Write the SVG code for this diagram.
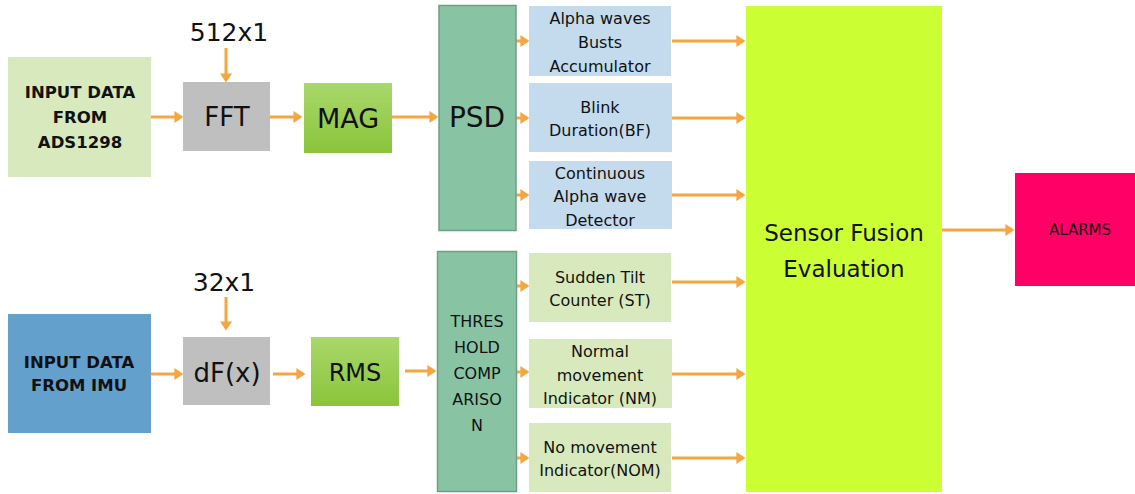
<svg xmlns="http://www.w3.org/2000/svg" width="1135" height="494" viewBox="0 0 1135 494">
<style>
text{font-family:"DejaVu Sans","Liberation Sans",sans-serif;fill:#111;text-anchor:middle;dominant-baseline:central}
.b{font-weight:bold;font-size:16.5px}
.s{font-size:16px}
.conn line{stroke:#F5A640;stroke-width:3;marker-end:url(#ah)}
</style>
<defs>
<marker id="ah" markerWidth="4" markerHeight="4" refX="2.2" refY="2" orient="auto" markerUnits="strokeWidth">
<path d="M0,0L3,2L0,4z" fill="#F5A640"/>
</marker>
<linearGradient id="gg" x1="0" y1="0" x2="0" y2="1">
<stop offset="0" stop-color="#A9D86B"/>
<stop offset="1" stop-color="#8BC43A"/>
</linearGradient>
</defs>
<rect width="1135" height="494" fill="#fff"/>
<g id="conns" class="conn">
<line x1="226" y1="48" x2="226" y2="80"/>
<line x1="151" y1="117" x2="181" y2="117"/>
<line x1="270" y1="117" x2="300" y2="117"/>
<line x1="392" y1="117" x2="436" y2="117"/>
<line x1="516" y1="41" x2="527" y2="41"/>
<line x1="516" y1="118" x2="527" y2="118"/>
<line x1="516" y1="195" x2="527" y2="195"/>
<line x1="672" y1="41" x2="743" y2="41"/>
<line x1="672" y1="118" x2="743" y2="118"/>
<line x1="672" y1="195" x2="743" y2="195"/>
<line x1="942" y1="230" x2="1012" y2="230"/>
<line x1="226" y1="297" x2="226" y2="328"/>
<line x1="151" y1="374" x2="181" y2="374"/>
<line x1="273" y1="374" x2="303" y2="374"/>
<line x1="405" y1="371" x2="434" y2="371"/>
<line x1="517" y1="286" x2="527" y2="286"/>
<line x1="517" y1="372" x2="527" y2="372"/>
<line x1="517" y1="458" x2="527" y2="458"/>
<line x1="672" y1="282" x2="743" y2="282"/>
<line x1="672" y1="374" x2="743" y2="374"/>
<line x1="672" y1="458" x2="743" y2="458"/>
</g>
<g id="n512"><text x="229" y="32" font-size="25">512x1</text></g>
<g id="n32"><text x="224" y="282" font-size="25">32x1</text></g>
<g id="ads"><rect x="8" y="57" width="143" height="120" fill="#D8EABD"/>
<text class="b" x="80" y="92">INPUT DATA</text><text class="b" x="80" y="117">FROM</text><text class="b" x="80" y="142">ADS1298</text></g>
<g id="fft"><rect x="183" y="82" width="87" height="69" fill="#BFBFBF"/><text x="227" y="117" font-size="26">FFT</text></g>
<g id="mag"><rect x="304" y="83" width="88" height="70" fill="url(#gg)"/><text x="348" y="118" font-size="27">MAG</text></g>
<g id="psd"><rect x="439" y="5.5" width="77" height="225" fill="#88C4A4" stroke="#6E9E84" stroke-width="1.5"/><text x="477" y="117" font-size="28">PSD</text></g>
<g id="alpha"><rect x="529" y="6" width="142" height="70" fill="#C4DBEE"/>
<text class="s" x="600" y="18">Alpha waves</text><text class="s" x="600" y="42">Busts</text><text class="s" x="600" y="66">Accumulator</text></g>
<g id="blink"><rect x="529" y="83" width="143" height="69" fill="#C4DBEE"/>
<text class="s" x="600" y="107">Blink</text><text class="s" x="600" y="130">Duration(BF)</text></g>
<g id="cont"><rect x="529" y="161" width="143" height="68" fill="#C4DBEE"/>
<text class="s" x="600" y="173">Continuous</text><text class="s" x="600" y="196">Alpha wave</text><text class="s" x="600" y="220">Detector</text></g>
<g id="fusion"><rect x="746" y="6" width="196" height="486" fill="#CCFF33"/>
<text x="844" y="233" font-size="23">Sensor Fusion</text><text x="844" y="269" font-size="23">Evaluation</text></g>
<g id="alarms"><rect x="1015" y="173" width="120" height="113" fill="#FF0066"/><text x="1080" y="230" font-size="15">ALARMS</text></g>
<g id="imu"><rect x="8" y="314" width="143" height="119" fill="#63A0CC"/>
<text class="b" x="79" y="362">INPUT DATA</text><text class="b" x="79" y="385">FROM IMU</text></g>
<g id="df"><rect x="183" y="337" width="87" height="68" fill="#BFBFBF"/><text x="227" y="373" font-size="26">dF(x)</text></g>
<g id="rms"><rect x="311" y="337" width="88" height="69" fill="url(#gg)"/><text x="355" y="373" font-size="24">RMS</text></g>
<g id="thr"><rect x="437.5" y="251.5" width="79" height="240" fill="#88C4A4" stroke="#6E9E84" stroke-width="1.5"/>
<text x="477" y="321" font-size="16">THRES</text><text x="477" y="347" font-size="16">HOLD</text><text x="477" y="373" font-size="16">COMP</text><text x="477" y="399" font-size="16">ARISO</text><text x="477" y="425" font-size="16">N</text></g>
<g id="tilt"><rect x="529" y="253" width="142" height="69" fill="#D8EABD"/>
<text class="s" x="600" y="277">Sudden Tilt</text><text class="s" x="600" y="300">Counter (ST)</text></g>
<g id="normal"><rect x="529" y="339" width="143" height="69" fill="#D8EABD"/>
<text class="s" x="600" y="351">Normal</text><text class="s" x="600" y="375">movement</text><text class="s" x="600" y="398">Indicator (NM)</text></g>
<g id="nomove"><rect x="529" y="423" width="142" height="69" fill="#D8EABD"/>
<text class="s" x="600" y="447">No movement</text><text class="s" x="600" y="470">Indicator(NOM)</text></g>
</svg>
